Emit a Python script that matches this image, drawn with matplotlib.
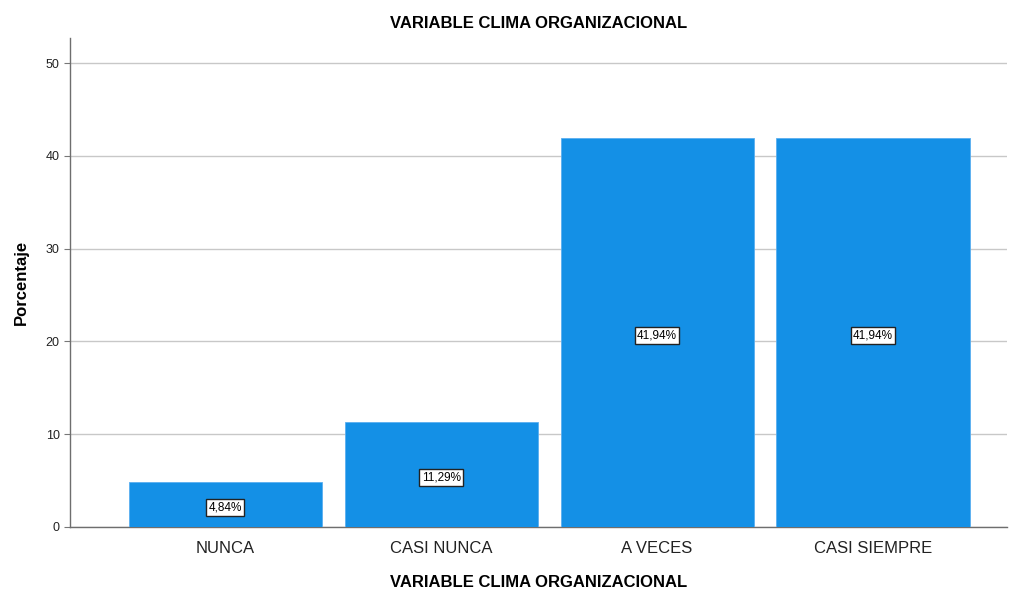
import matplotlib
matplotlib.use('Agg')
import matplotlib.pyplot as plt

plt.rcParams['font.family'] = ['Liberation Sans', 'DejaVu Sans']

categorias = ['NUNCA', 'CASI NUNCA', 'A VECES', 'CASI SIEMPRE']
porcentajes = [4.84, 11.29, 41.94, 41.94]
etiquetas = ['4,84%', '11,29%', '41,94%', '41,94%']

fig = plt.figure(figsize=(10.19, 5.94), dpi=100, facecolor='white')
ax = fig.add_axes([0.0687, 0.1128, 0.9193, 0.8232])

x = range(len(categorias))
ax.bar(x, porcentajes, width=0.895, color='#1490e6', edgecolor='#5aaff0', linewidth=0.6, zorder=3)

for xi, v, t in zip(x, porcentajes, etiquetas):
    ax.text(xi, v / 2 - 0.3, t, ha='center', va='center', fontsize=8.5, color='black', zorder=4,
            bbox=dict(boxstyle='square,pad=0.2', facecolor='white', edgecolor='#222222', linewidth=1))

ax.set_xlim(-0.72, 3.62)
ax.set_ylim(0, 52.7)
ax.set_yticks([0, 10, 20, 30, 40, 50])
ax.set_xticks(list(x))
ax.set_xticklabels(categorias, fontsize=12, color='#222222')
ax.tick_params(axis='x', length=0, pad=10)
ax.tick_params(axis='y', labelsize=9, length=4, color='#777777', labelcolor='#222222')

ax.grid(axis='y', color='#c8c8c8', linewidth=1, zorder=0)
for s in ['top', 'right']:
    ax.spines[s].set_visible(False)
for s in ['left', 'bottom']:
    ax.spines[s].set_color('#6e6e6e')
    ax.spines[s].set_linewidth(1)

ax.set_title('VARIABLE CLIMA ORGANIZACIONAL', fontsize=12, fontweight='bold', pad=7)
ax.set_xlabel('VARIABLE CLIMA ORGANIZACIONAL', fontsize=12, fontweight='bold', labelpad=14)
ax.set_ylabel('Porcentaje', fontsize=12, fontweight='bold', labelpad=12)

fig.savefig('out.png', dpi=100)
